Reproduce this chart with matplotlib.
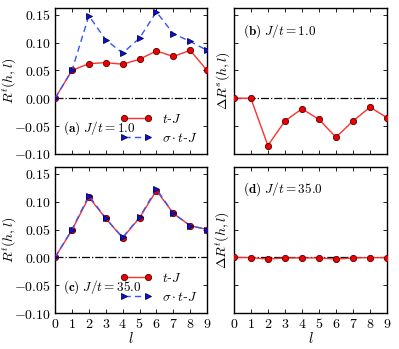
import matplotlib
matplotlib.use("Agg")
import matplotlib.pyplot as plt
from matplotlib.ticker import FuncFormatter
import numpy as np

plt.rcParams['mathtext.fontset'] = 'cm'
plt.rcParams['font.family'] = 'serif'
plt.rcParams['font.serif'] = ['DejaVu Serif']

l = list(range(10))
tj_a = [0.0, 0.050, 0.062, 0.064, 0.061, 0.070, 0.085, 0.075, 0.086, 0.050]
stj_a = [0.0, 0.050, 0.148, 0.105, 0.081, 0.108, 0.155, 0.116, 0.102, 0.086]
dR_b = [0.0, 0.0, -0.085, -0.041, -0.019, -0.038, -0.070, -0.041, -0.016, -0.035]
tj_c = [0.0, 0.049, 0.108, 0.070, 0.035, 0.071, 0.120, 0.079, 0.057, 0.050]
stj_c = [0.0, 0.050, 0.111, 0.070, 0.036, 0.072, 0.123, 0.079, 0.057, 0.050]
dR_d = [0.0, -0.0005, -0.003, -0.001, -0.001, -0.001, -0.003, -0.001, -0.0005, -0.0005]
yticks = [-0.10, -0.05, 0.00, 0.05, 0.10, 0.15]
ylim = (-0.10, 0.162)

yfmt = FuncFormatter(lambda v, p: r'$%.2f$' % v)
xfmt = FuncFormatter(lambda v, p: r'$%d$' % int(round(v)))

fig = plt.figure(figsize=(3.99, 3.49), dpi=100)
axa = fig.add_axes([0.138, 0.559, 0.381, 0.418])
axb = fig.add_axes([0.586, 0.559, 0.384, 0.418])
axc = fig.add_axes([0.138, 0.103, 0.381, 0.418])
axd = fig.add_axes([0.586, 0.103, 0.384, 0.418])

red_kw = dict(color='#ff3030', lw=1.0, marker='o', ms=4.5, mfc='#ee0000', mec='#550000', mew=0.6)
blue_kw = dict(color='#3355ff', lw=1.0, ls='--', dashes=(4.5, 3), marker='>', ms=4.5, mfc='#1010cc', mec='#000060', mew=0.6)

for ax in (axa, axb, axc, axd):
    ax.axhline(0, color='black', ls='-.', lw=0.9, zorder=1)
    ax.set_xlim(0, 9)
    ax.set_ylim(*ylim)
    ax.set_xticks(l)
    ax.set_yticks(yticks)
    ax.xaxis.set_major_formatter(xfmt)
    ax.yaxis.set_major_formatter(yfmt)
    ax.tick_params(direction='in', top=True, right=True, labelsize=10, length=3, width=0.6, pad=3)
    for s in ax.spines.values():
        s.set_linewidth(1.0)

axa.plot(l, tj_a, label=r'$t$-$J$', zorder=3, **red_kw)
axa.plot(l, stj_a, label=r'$\sigma\cdot t$-$J$', zorder=4, **blue_kw)
axc.plot(l, tj_c, label=r'$t$-$J$', zorder=3, **red_kw)
axc.plot(l, stj_c, label=r'$\sigma\cdot t$-$J$', zorder=4, **blue_kw)
axb.plot(l, dR_b, zorder=3, **red_kw)
axd.plot(l, dR_d, zorder=3, **red_kw)

for ax in (axa, axc):
    ax.legend(loc='lower right', frameon=False, fontsize=9.5, handlelength=2.4, numpoints=2,
              borderaxespad=0.3, labelspacing=0.45, handletextpad=0.8)
    ax.set_ylabel(r'$R^t(h,l)$', fontsize=10)
    ax.yaxis.set_label_coords(-0.235, 0.5)
for ax in (axb, axd):
    ax.set_yticklabels([])
axb.set_ylabel(r'$\Delta R^s(h,l)$', fontsize=10)
axd.set_ylabel(r'$\Delta R^t(h,l)$', fontsize=10)
axb.yaxis.set_label_coords(-0.015, 0.5)
axd.yaxis.set_label_coords(-0.015, 0.5)
axa.set_xticklabels([])
axb.set_xticklabels([])
axc.set_xlabel(r'$l$', fontsize=10.5, labelpad=0)
axd.set_xlabel(r'$l$', fontsize=10.5, labelpad=0)

axa.text(0.05, 0.18, r'$\mathbf{(a)}\ J/t = 1.0$', transform=axa.transAxes, fontsize=9.5, va='center')
axc.text(0.05, 0.18, r'$\mathbf{(c)}\ J/t = 35.0$', transform=axc.transAxes, fontsize=9.5, va='center')
axb.text(0.06, 0.84, r'$\mathbf{(b)}\ J/t = 1.0$', transform=axb.transAxes, fontsize=9.5, va='center')
axd.text(0.06, 0.85, r'$\mathbf{(d)}\ J/t = 35.0$', transform=axd.transAxes, fontsize=9.5, va='center')

fig.savefig('out.png', dpi=100)
